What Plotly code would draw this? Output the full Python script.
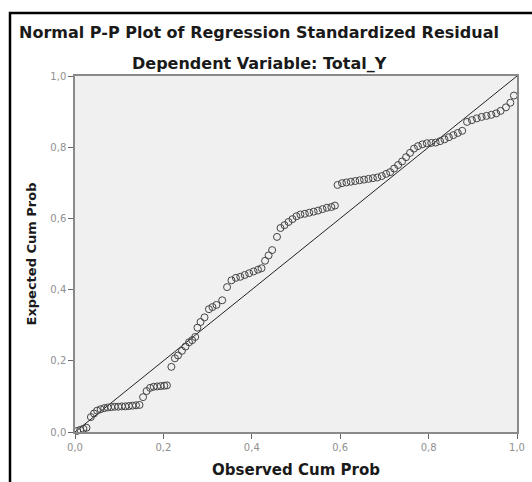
import plotly.graph_objects as go

title_text = "Normal P-P Plot of Regression Standardized Residual"
subtitle_text = "Dependent Variable: Total_Y"
x_title = "Observed Cum Prob"
y_title = "Expected Cum Prob"

observed = [
    0.005, 0.012, 0.019, 0.026,
    0.036, 0.043, 0.050, 0.058, 0.066, 0.074, 0.082, 0.090, 0.098, 0.106, 0.114, 0.122, 0.130, 0.138, 0.146,
    0.154, 0.162, 0.170, 0.178, 0.186, 0.194, 0.202, 0.208,
    0.218, 0.226, 0.233, 0.242, 0.250, 0.258, 0.265, 0.272, 0.277, 0.284, 0.293, 0.303, 0.311, 0.320, 0.333,
    0.344, 0.354, 0.364, 0.374, 0.384, 0.394, 0.404, 0.414, 0.422, 0.430, 0.438, 0.446, 0.457, 0.465, 0.474,
    0.483, 0.492, 0.501, 0.510, 0.520, 0.530, 0.540, 0.550, 0.560, 0.570, 0.580, 0.588,
    0.594, 0.604, 0.614, 0.624, 0.634, 0.644, 0.654, 0.664, 0.674, 0.684, 0.694, 0.704, 0.713, 0.722, 0.731,
    0.740, 0.749, 0.758, 0.767, 0.776, 0.786, 0.796, 0.806, 0.816, 0.826, 0.836, 0.846, 0.856, 0.866, 0.876,
    0.887, 0.898, 0.909, 0.920, 0.931, 0.942, 0.953, 0.963, 0.975, 0.985, 0.993,
]
expected = [
    0.003, 0.006, 0.009, 0.012,
    0.042, 0.052, 0.060, 0.064, 0.067, 0.069, 0.070, 0.071, 0.071, 0.072, 0.072, 0.073, 0.074, 0.075, 0.076,
    0.098, 0.115, 0.124, 0.127, 0.128, 0.129, 0.130, 0.131,
    0.183, 0.207, 0.215, 0.228, 0.240, 0.252, 0.258, 0.267, 0.293, 0.309, 0.322, 0.345, 0.351, 0.357, 0.370,
    0.407, 0.426, 0.433, 0.436, 0.441, 0.446, 0.451, 0.456, 0.460, 0.481, 0.496, 0.511, 0.548, 0.573, 0.581,
    0.590, 0.598, 0.606, 0.611, 0.613, 0.616, 0.619, 0.622, 0.626, 0.630, 0.632, 0.636,
    0.694, 0.699, 0.701, 0.703, 0.705, 0.707, 0.709, 0.711, 0.713, 0.715, 0.719, 0.725, 0.730, 0.740, 0.750,
    0.760, 0.772, 0.784, 0.796, 0.803, 0.808, 0.811, 0.812, 0.813, 0.817, 0.822, 0.828, 0.834, 0.840, 0.846,
    0.871, 0.876, 0.881, 0.885, 0.888, 0.891, 0.895, 0.902, 0.912, 0.925, 0.945,
]
ref_x = [0.0, 1.0]
ref_y = [0.0, 1.0]
tick_vals = [0.0, 0.2, 0.4, 0.6, 0.8, 1.0]

FONT = "DejaVu Sans, Liberation Sans, Arial"

fig = go.Figure()
fig.add_trace(go.Scatter(x=ref_x, y=ref_y, mode="lines",
                         line=dict(color="#222222", width=1), hoverinfo="skip",
                         showlegend=False, cliponaxis=False))
fig.add_trace(go.Scatter(x=observed, y=expected, mode="markers",
                         marker=dict(symbol="circle-open", size=7, color="#444444",
                                     line=dict(width=1, color="#444444")),
                         showlegend=False, cliponaxis=False))

axis_common = dict(range=[0, 1], tickvals=tick_vals, tickformat=".1f",
                   showgrid=False, zeroline=False, showline=True, mirror=True,
                   linecolor="#8a8a8a", linewidth=1.5, automargin=False,
                   ticks="outside", ticklen=5, tickcolor="#666666",
                   tickfont=dict(family=FONT, size=10, color="#909090"))

fig.update_layout(
    width=532, height=482,
    margin=dict(l=75, r=15, t=76, b=50),
    paper_bgcolor="white", plot_bgcolor="#f0f0f0",
    separators=",.",
    font=dict(family=FONT),
    xaxis=dict(**axis_common,
               title=dict(text="<b>" + x_title + "</b>", standoff=13,
                          font=dict(size=15, color="#1a1a1a"))),
    yaxis=dict(**axis_common,
               title=dict(text="<b>" + y_title + "</b>", standoff=11,
                          font=dict(size=13, color="#1a1a1a"))),
    annotations=[
        dict(text="<b>" + title_text + "</b>", xref="paper", yref="paper",
             x=(259 - 75) / 442, y=(432 - 33) / 356, xanchor="center", yanchor="middle",
             showarrow=False, font=dict(size=16, color="#1a1a1a")),
        dict(text="<b>" + subtitle_text + "</b>", xref="paper", yref="paper",
             x=(259 - 75) / 442, y=(432 - 63) / 356, xanchor="center", yanchor="middle",
             showarrow=False, font=dict(size=16, color="#1a1a1a")),
    ],
    shapes=[
        dict(type="rect", xref="paper", yref="paper",
             x0=(10 - 75) / 442, x1=1.3, y0=-0.5, y1=(432 - 13) / 356,
             line=dict(color="black", width=2.5), layer="below"),
    ],
)

fig.write_html("out.html")
